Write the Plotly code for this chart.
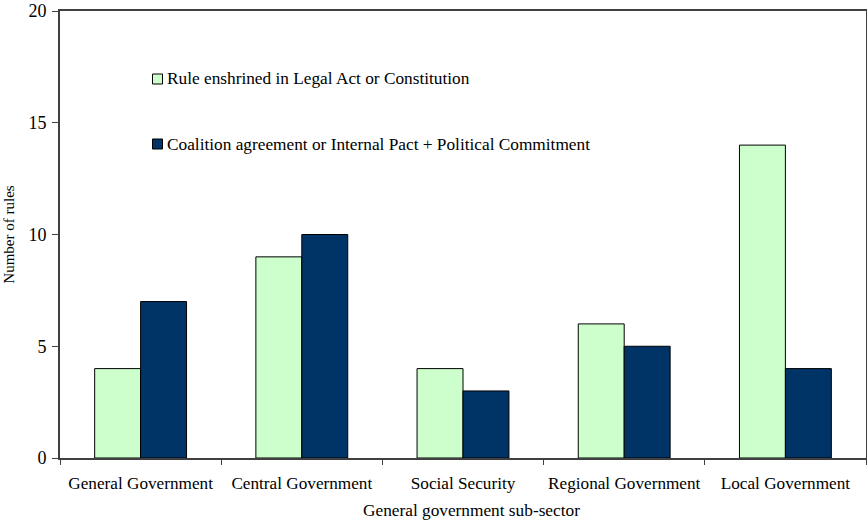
import plotly.graph_objects as go

categories = ["General Government", "Central Government", "Social Security",
              "Regional Government", "Local Government"]
legal_act = [4, 9, 4, 6, 14]
coalition = [7, 10, 3, 5, 4]
y_ticks = [0, 5, 10, 15, 20]

series_names = ["Rule enshrined in Legal Act or Constitution",
                "Coalition agreement or Internal Pact + Political Commitment"]
series_colors = ["#CCFFCC", "#003366"]

FONT = "Liberation Serif, Times New Roman, serif"
W, H = 867, 522
M = dict(l=60, r=1, t=11, b=64)

fig = go.Figure()
for vals, name, col in zip([legal_act, coalition], series_names, series_colors):
    fig.add_trace(go.Bar(
        x=categories, y=vals, name=name, showlegend=False,
        marker=dict(color=col, line=dict(color="#000000", width=1)),
    ))

# Legend drawn as swatches + labels inside the plot area (paper coords)
pw, ph = W - M["l"] - M["r"], H - M["t"] - M["b"]
def px(x):
    return (x - M["l"]) / pw
def py(y):
    return 1 - (y - M["t"]) / ph

for i, (name, col) in enumerate(zip(series_names, series_colors)):
    cy = 79 + i * 65
    fig.add_shape(type="rect", xref="paper", yref="paper",
                  x0=px(152.5), x1=px(162.5), y0=py(cy - 5), y1=py(cy + 5),
                  fillcolor=col, line=dict(color="#000000", width=1))
    fig.add_annotation(xref="paper", yref="paper", x=px(165), y=py(cy),
                       xanchor="left", yanchor="middle", showarrow=False,
                       text=name, font=dict(family=FONT, size=17.3, color="#000000"))

# x-axis title
fig.add_annotation(xref="paper", yref="paper", x=px(471), y=py(510),
                   xanchor="center", yanchor="middle", showarrow=False,
                   text="General government sub-sector",
                   font=dict(family=FONT, size=17.3, color="#000000"))

fig.update_layout(
    width=W, height=H,
    margin=M,
    paper_bgcolor="white", plot_bgcolor="white",
    font=dict(family=FONT, size=17, color="#000000"),
    barmode="group", bargap=0.43, bargroupgap=0,
    showlegend=False,
    xaxis=dict(
        showline=True, linecolor="#404040", linewidth=2, mirror=True,
        ticks="outside", ticklen=5, tickcolor="#404040",
        tickson="boundaries", showgrid=False, automargin=False,
        tickangle=0, tickfont=dict(size=17.2), ticklabelstandoff=8,
    ),
    yaxis=dict(
        title=dict(text="Number of rules", font=dict(size=15), standoff=10),
        range=[0, 20], tickvals=y_ticks, automargin=False,
        showline=True, linecolor="#404040", linewidth=2, mirror=True,
        ticks="outside", ticklen=6, tickcolor="#404040",
        showgrid=False, zeroline=False,
        tickfont=dict(size=18), ticklabelstandoff=2,
    ),
)

fig.write_html("out.html")
